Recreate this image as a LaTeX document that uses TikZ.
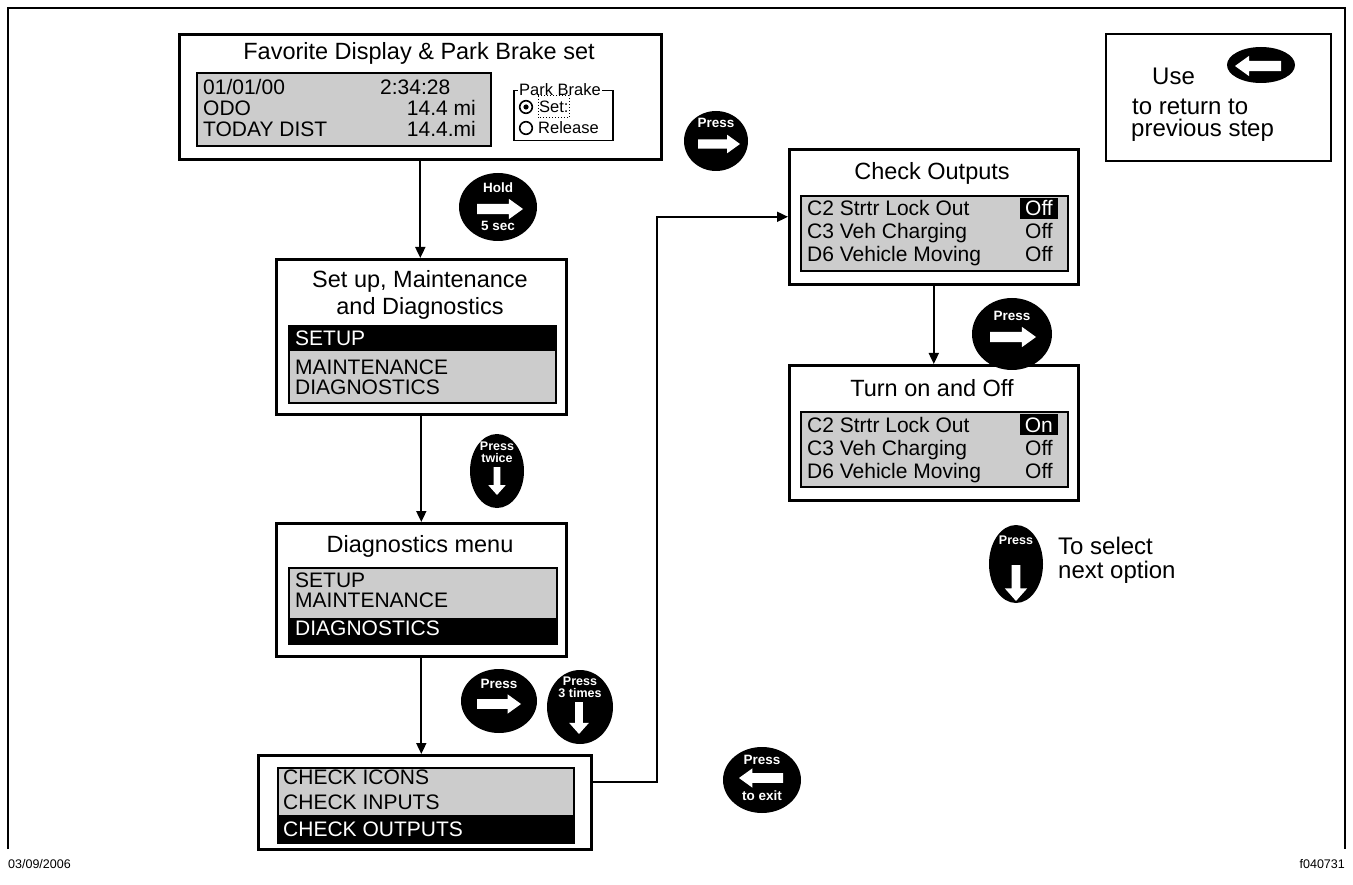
\documentclass[tikz,border=0pt]{standalone}
\usepackage{fontspec}
\setmainfont{Liberation Sans}
\usepackage{tikz}
\usetikzlibrary{arrows.meta}
\usetikzlibrary{positioning}
\usetikzlibrary{shapes.geometric}

\begin{document}
\begin{tikzpicture}[%
    x=1pt, y=-1pt,
    panel/.style={draw, line width=2.6pt, anchor=north west, inner sep=0pt},
    screen/.style={draw, line width=1.6pt, fill=black!20, anchor=north west, inner sep=0pt},
    band/.style={fill=black, anchor=north west, inner sep=0pt},
    title/.style={anchor=base, inner sep=0pt, font=\fontsize{23.5}{27}\selectfont},
    lcd/.style={anchor=base west, inner sep=0pt, font=\fontsize{21}{24}\selectfont},
    lcdr/.style={lcd, anchor=base east},
    hilite/.style={lcdr, fill=black, text=white, inner xsep=5pt, inner ysep=3pt},
    btn/.style={ellipse, fill=black, inner sep=0pt},
    btnlbl/.style={white, inner sep=0pt, font=\fontsize{13.5}{15}\selectfont\bfseries},
    vbtnlbl/.style={btnlbl, font=\fontsize{12.5}{14}\selectfont\bfseries},
    note/.style={anchor=base west, inner sep=0pt, font=\fontsize{24}{28}\selectfont},
    link/.style={line width=1.8pt, -{Triangle[length=11pt, width=10pt]}},
    harrow/.pic={%
      \fill [white] (-1,-0.22) -- (0.39,-0.22) -- (0.39,-0.44) -- (1,0)
        -- (0.39,0.44) -- (0.39,0.22) -- (-1,0.22) -- cycle;
    },
    varrow/.pic={%
      \fill [white] (-0.24,-1) -- (0.24,-1) -- (0.24,0.3) -- (0.62,0.3)
        -- (0,1) -- (-0.62,0.3) -- (-0.24,0.3) -- cycle;
    }
  ]
  \useasboundingbox (0,0) rectangle (1353,885);

  % frame
  \draw [line width=1.2pt] (8,849) -- (8,8) -- (1345,8) -- (1345,849);
  \node [anchor=base west, inner sep=0pt, font=\fontsize{12.5}{14}\selectfont] (date) at (8,868) {03/09/2006};
  \node [anchor=base east, inner sep=0pt, font=\fontsize{12.5}{14}\selectfont] (fignum) at (1345,868) {f040731};

  % favorite display
  \node [panel, minimum width=482, minimum height=125] (fav) at (178,33) {};
  \node [title] (fav-title) at (419,60) {Favorite Display \& Park Brake set};
  \node [screen, minimum width=294, minimum height=73] (fav-lcd) at (196,72) {};
  \node [lcd] (fav-date) at (203,95) {01/01/00};
  \node [lcd] (fav-time) at (380,95) {2:34:28};
  \node [lcd] (fav-odo) at (203,116) {ODO};
  \node [lcdr] (fav-odov) at (476,116) {14.4 mi};
  \node [lcd] (fav-dist) at (203,137) {TODAY DIST};
  \node [lcdr] (fav-distv) at (476,137) {14.4.mi};

  \node [draw, line width=1.5pt, anchor=north west, inner sep=0pt,
    minimum width=99, minimum height=50] (brake) at (513,90) {};
  \node [fill=white, inner sep=1.5pt, font=\fontsize{16.5}{18}\selectfont] (brake-lbl) at (560,90) {Park Brake};
  \draw [line width=1.6pt] (526,107) circle (6.3pt);
  \fill (526,107) circle (2.6pt);
  \draw [line width=1.6pt] (526,128) circle (6.3pt);
  \node [anchor=base west, inner sep=0pt, font=\fontsize{16.5}{18}\selectfont] (brake-set) at (539,113) {Set:};
  \node [anchor=base west, inner sep=0pt, font=\fontsize{16.5}{18}\selectfont] (brake-rel) at (538,134) {Release};
  \draw [dotted, line width=1pt] (538,96) rectangle (569,118);

  % set up, maintenance and diagnostics
  \node [panel, minimum width=290, minimum height=155] (setup) at (275,258) {};
  \node [title, anchor=north, align=center] (setup-title) at (420,270) {Set up, Maintenance\\and Diagnostics};
  \node [screen, minimum width=267, minimum height=77] (setup-lcd) at (288,325) {};
  \node [band, minimum width=267, minimum height=26] (setup-sel) at (288,325) {};
  \node [lcd, white] (setup-a) at (295,346) {SETUP};
  \node [lcd] (setup-b) at (295,375) {MAINTENANCE};
  \node [lcd] (setup-c) at (295,395) {DIAGNOSTICS};

  % diagnostics menu
  \node [panel, minimum width=290, minimum height=133] (diag) at (275,522) {};
  \node [title] (diag-title) at (420,552) {Diagnostics menu};
  \node [screen, minimum width=268, minimum height=76] (diag-lcd) at (288,567) {};
  \node [band, minimum width=268, minimum height=25] (diag-sel) at (288,618) {};
  \node [lcd] (diag-a) at (295,587) {SETUP};
  \node [lcd] (diag-b) at (295,607) {MAINTENANCE};
  \node [lcd, white] (diag-c) at (295,635) {DIAGNOSTICS};

  % check menu
  \node [panel, minimum width=333, minimum height=94] (check) at (257,754) {};
  \node [screen, minimum width=296, minimum height=75] (check-lcd) at (277,767) {};
  \node [band, minimum width=296, minimum height=27] (check-sel) at (277,815) {};
  \node [lcd] (check-a) at (283,784) {CHECK ICONS};
  \node [lcd] (check-b) at (283,809) {CHECK INPUTS};
  \node [lcd, white] (check-c) at (283,836) {CHECK OUTPUTS};

  % check outputs
  \node [panel, minimum width=289, minimum height=135] (outs) at (788,148) {};
  \node [title] (outs-title) at (932,180) {Check Outputs};
  \node [screen, minimum width=267, minimum height=75] (outs-lcd) at (800,195) {};
  \node [lcd] (outs-a) at (807,216) {C2 Strtr Lock Out};
  \node [hilite] (outs-av) at (1058,216) {Off};
  \node [lcd] (outs-b) at (807,239) {C3 Veh Charging};
  \node [lcdr] (outs-bv) at (1053,239) {Off};
  \node [lcd] (outs-c) at (807,262) {D6 Vehicle Moving};
  \node [lcdr] (outs-cv) at (1053,262) {Off};

  % turn on and off
  \node [panel, minimum width=289, minimum height=135] (turn) at (788,364) {};
  \node [title] (turn-title) at (932,396) {Turn on and Off};
  \node [screen, minimum width=267, minimum height=75] (turn-lcd) at (800,411) {};
  \node [lcd] (turn-a) at (807,432) {C2 Strtr Lock Out};
  \node [hilite] (turn-av) at (1058,432) {On};
  \node [lcd] (turn-b) at (807,455) {C3 Veh Charging};
  \node [lcdr] (turn-bv) at (1053,455) {Off};
  \node [lcd] (turn-c) at (807,478) {D6 Vehicle Moving};
  \node [lcdr] (turn-cv) at (1053,478) {Off};

  % legend
  \node [draw, line width=1.6pt, anchor=north west, inner sep=0pt,
    minimum width=225, minimum height=127] (legend) at (1105,33) {};
  \node [note] (legend-a) at (1152,85) {Use};
  \node [note] (legend-b) at (1132,115) {to return to};
  \node [note] (legend-c) at (1131,137) {previous step};
  \node [btn, minimum width=68, minimum height=36] (legend-btn) at (1261,65) {};
  \pic [scale=23, xscale=-1] at (1258,66) {harrow};

  % buttons
  \node [btn, minimum width=78, minimum height=68] (hold) at (498,207) {};
  \node [btnlbl] (hold-a) at (498,188) {Hold};
  \pic [scale=23] at (500,209) {harrow};
  \node [btnlbl] (hold-b) at (498,226) {5 sec};

  \node [btn, minimum width=54, minimum height=74] (twice) at (497,471) {};
  \node [vbtnlbl] (twice-a) at (497,446) {Press};
  \node [vbtnlbl] (twice-b) at (497,458) {twice};
  \pic [scale=14] at (497,481) {varrow};

  \node [btn, minimum width=76, minimum height=64] (go) at (499,701) {};
  \node [btnlbl] (go-a) at (499,684) {Press};
  \pic [scale=22] at (499,704) {harrow};

  \node [btn, minimum width=66, minimum height=74] (three) at (580,707) {};
  \node [vbtnlbl] (three-a) at (580,681) {Press};
  \node [vbtnlbl] (three-b) at (580,693) {3 times};
  \pic [scale=16] at (579,718) {varrow};

  \node [btn, minimum width=64, minimum height=60] (enter) at (716,141) {};
  \node [btnlbl] (enter-a) at (716,123) {Press};
  \pic [scale=21] at (719,144) {harrow};

  \node [btn, minimum width=80, minimum height=72] (toggle) at (1012,334) {};
  \node [btnlbl] (toggle-a) at (1012,316) {Press};
  \pic [scale=23] at (1013,337) {harrow};

  \node [btn, minimum width=54, minimum height=78] (next) at (1016,564) {};
  \node [vbtnlbl] (next-a) at (1016,540) {Press};
  \pic [scale=18] at (1016,583) {varrow};
  \node [note] (next-b) at (1058,554) {To select};
  \node [note] (next-c) at (1058,578) {next option};

  \node [btn, minimum width=78, minimum height=66] (exit) at (762,780) {};
  \node [btnlbl] (exit-a) at (762,760) {Press};
  \pic [scale=22, xscale=-1] at (761,778) {harrow};
  \node [btnlbl] (exit-b) at (762,796) {to exit};

  % connectors
  \draw [link] (fav.south) -- (fav.south |- setup.north);
  \draw [link] (setup.south) -- (setup.south |- diag.north);
  \draw [link] (diag.south) -- (diag.south |- check.north);
  \coordinate (bend) at (657,782);
  \draw [link] (check.east |- bend) -- (bend) |- (outs.west);
  \draw [link] (outs.south) -- (outs.south |- turn.north);
\end{tikzpicture}
\end{document}
